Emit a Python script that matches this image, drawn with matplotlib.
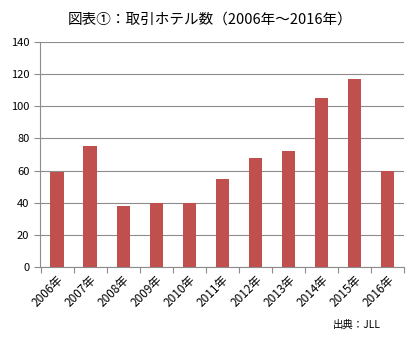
import matplotlib

matplotlib.use("Agg")
import matplotlib.pyplot as plt
import numpy as np

plt.rcParams["font.family"] = ["Noto Sans CJK JP", "DejaVu Sans"]

years = ["2006年", "2007年", "2008年", "2009年", "2010年", "2011年",
         "2012年", "2013年", "2014年", "2015年", "2016年"]
hotels = [59, 75, 38, 40, 40, 55, 68, 72, 105, 117, 60]
yticks = [0, 20, 40, 60, 80, 100, 120, 140]

BAR = "#C0504D"
GRID = "#8C8C8C"

fig = plt.figure(figsize=(4.14, 3.42), dpi=100)
ax = fig.add_axes([40.5 / 414, 1 - 266.7 / 342, (404 - 40.5) / 414, (266.7 - 42.3) / 342])

x = np.arange(len(years))
ax.bar(x, hotels, width=0.4, color=BAR, zorder=3)

ax.set_xlim(-0.5, len(years) - 0.5)
ax.set_ylim(0, 140)
ax.set_yticks(yticks)
ax.set_yticklabels([str(v) for v in yticks], fontsize=8)
ax.yaxis.grid(True, color=GRID, lw=0.8, zorder=0)

# category ticks sit between bars, labels centred under bars
ax.set_xticks(np.arange(-0.5, len(years)), minor=False)
ax.set_xticklabels([])
ax.set_xticks(x, minor=True)
ax.set_xticklabels(years, minor=True, rotation=45, ha="right",
                   rotation_mode="anchor", fontsize=8.5)
ax.tick_params(axis="x", which="minor", length=0, pad=5)
ax.tick_params(axis="x", which="major", length=4, color=GRID)
ax.tick_params(axis="y", length=4, color=GRID, pad=4)

for s in ("top", "right"):
    ax.spines[s].set_visible(False)
for s in ("left", "bottom"):
    ax.spines[s].set_color(GRID)
    ax.spines[s].set_linewidth(0.8)

fig.text(210, 342 - 20, "図表①：取引ホテル数（2006年～2016年）",
         transform=None, ha="center", va="center", fontsize=10.5)
fig.text(333 / 414, 1 - 325 / 342, "出典：JLL", ha="left", va="center", fontsize=7.5)

fig.savefig("out.png", dpi=100)
